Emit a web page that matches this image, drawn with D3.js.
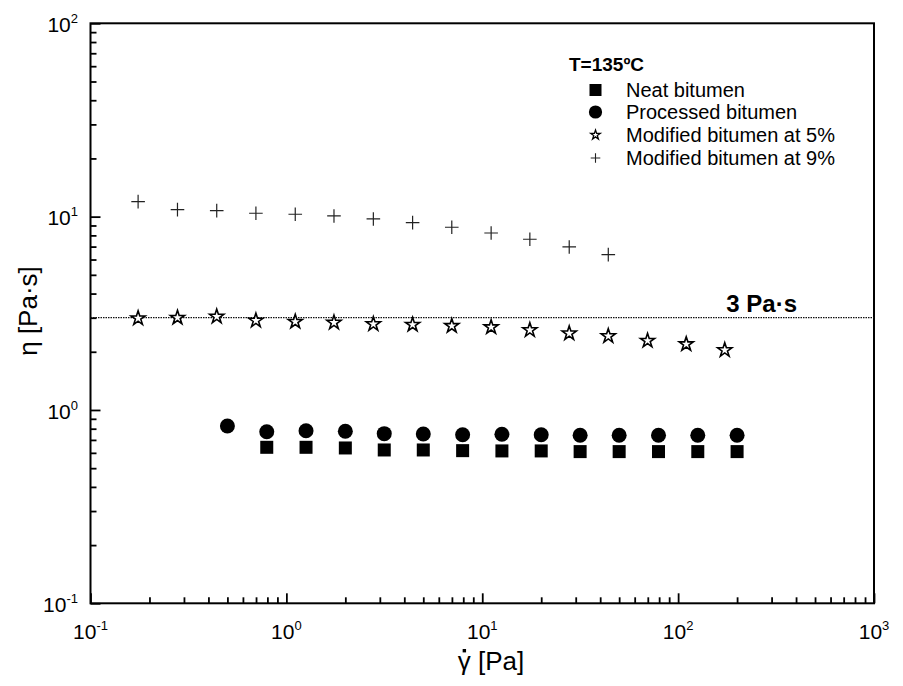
<!DOCTYPE html>
<html><head><meta charset="utf-8">
<script src="https://cdn.jsdelivr.net/npm/d3@7"></script>
<style>body{margin:0;background:#fff} text{font-family:"Liberation Sans",Arial,sans-serif;fill:#000}</style>
</head><body><svg id="c" width="903" height="686"></svg>
<script>
// ---- data ----
const seriesNames = ["Neat bitumen","Processed bitumen","Modified bitumen at 5%","Modified bitumen at 9%"];
const rateNeat = [0.794,1.26,2.0,3.16,5.0,7.94,12.6,20,31.6,50,79.4,126,200];
const etaNeat  = [0.641,0.641,0.636,0.621,0.621,0.616,0.614,0.614,0.609,0.609,0.609,0.609,0.609];
const rateProc = [0.5,0.794,1.26,2.0,3.16,5.0,7.94,12.6,20,31.6,50,79.4,126,200];
const etaProc  = [0.826,0.772,0.781,0.776,0.754,0.751,0.745,0.749,0.745,0.740,0.740,0.740,0.740,0.740];
const rateMod5 = [0.175,0.278,0.441,0.699,1.11,1.75,2.78,4.41,6.99,11.1,17.5,27.8,44.0,69.8,110,173];
const etaMod5  = [2.98,3.00,3.04,2.90,2.86,2.83,2.78,2.76,2.72,2.68,2.59,2.49,2.41,2.28,2.19,2.04];
const rateMod9 = [0.175,0.278,0.441,0.699,1.11,1.75,2.78,4.41,6.99,11.1,17.5,27.8,44.0];
const etaMod9  = [11.96,10.87,10.74,10.41,10.29,10.08,9.73,9.31,8.81,8.23,7.64,6.97,6.36];
const refViscosity = 3;
const xMajor = [0.1,1,10,100,1000], xExp = ["-1","0","1","2","3"];
const yMajor = [0.1,1,10,100], yExp = ["-1","0","1","2"];

// ---- layout ----
const L = 90.5, R = 874, T = 23.3, B = 603.3;
const svg = d3.select("#c");
const x = d3.scaleLog().domain([0.1,1000]).range([L,R]);
const y = d3.scaleLog().domain([0.1,100]).range([B,T]);

function minors(dom){const a=[];for(let e=Math.log10(dom[0]);e<Math.log10(dom[1]);e++){for(let k=2;k<=9;k++)a.push(k*Math.pow(10,e));}return a;}

// ticks (inward)
function drawAxis(gen, vals, size, tr){
  const g = svg.append("g").attr("transform",tr).call(gen.tickValues(vals).tickSize(-size).tickFormat(""));
  g.select(".domain").remove();
  g.selectAll("line").attr("stroke","#000").attr("stroke-width",1.8);
}
drawAxis(d3.axisBottom(x), xMajor, 10, `translate(0,${B})`);
drawAxis(d3.axisBottom(x), minors([0.1,1000]), 6, `translate(0,${B})`);
drawAxis(d3.axisLeft(y), yMajor, 10, `translate(${L},0)`);
drawAxis(d3.axisLeft(y), minors([0.1,100]), 6, `translate(${L},0)`);

// frame
svg.append("rect").attr("x",L).attr("y",T).attr("width",R-L).attr("height",B-T)
  .attr("fill","none").attr("stroke","#000").attr("stroke-width",2);

// tick labels
xMajor.forEach((v,i)=>{
  const t = svg.append("text").attr("x",x(v)).attr("y",638.5).attr("text-anchor","middle").style("font-size","21px");
  t.append("tspan").text("10");
  t.append("tspan").attr("dy",-9).style("font-size","13px").text(xExp[i]);
});
yMajor.forEach((v,i)=>{
  const t = svg.append("text").attr("x",78).attr("y",y(v)+8.7).attr("text-anchor","end").style("font-size","21px");
  t.append("tspan").text("10");
  t.append("tspan").attr("dy",-9).style("font-size","13px").text(yExp[i]);
});

// axis titles
const xt = svg.append("text").attr("x",491).attr("y",670).attr("text-anchor","middle").style("font-size","26px");
xt.append("tspan").attr("class","g").text("γ");
xt.append("tspan").text(" [Pa]");
const tw = xt.node().getComputedTextLength();
const gw = xt.select("tspan.g").node().getComputedTextLength();
svg.append("rect").attr("x",491 - tw/2 + gw/2 - 1.6).attr("y",670-21).attr("width",3.4).attr("height",3.4).attr("fill","#000");
svg.append("text").attr("transform","translate(37,311) rotate(-90)").attr("text-anchor","middle")
  .style("font-size","26px").text("η [Pa·s]");

// reference line
svg.append("line").attr("x1",L).attr("x2",R).attr("y1",y(refViscosity)).attr("y2",y(refViscosity))
  .attr("stroke","#111").attr("stroke-width",1.3).attr("stroke-dasharray","1.5,1");
svg.append("text").attr("x",797).attr("y",311.5).attr("text-anchor","end")
  .style("font-size","24px").style("font-weight","bold").text("3 Pa·s");

// markers
const star = d3.symbol().type(d3.symbolStar);
function drawSquare(g,cx,cy,s){g.append("rect").attr("x",cx-s/2).attr("y",cy-s/2).attr("width",s).attr("height",s).attr("fill","#000");}
function drawCircle(g,cx,cy,r){g.append("circle").attr("cx",cx).attr("cy",cy).attr("r",r).attr("fill","#000");}
function drawStar(g,cx,cy,size,sw){g.append("path").attr("d",star.size(size)()).attr("transform",`translate(${cx},${cy})`)
  .attr("fill","#fff").attr("stroke","#000").attr("stroke-width",sw).attr("stroke-linejoin","miter");}
function drawPlus(g,cx,cy,h,sw){g.append("path").attr("d",`M${cx-h},${cy}H${cx+h}M${cx},${cy-h}V${cy+h}`)
  .attr("stroke","#222").attr("stroke-width",sw).attr("fill","none");}

const gm = svg.append("g");
rateNeat.forEach((r,i)=>drawSquare(gm,x(r),y(etaNeat[i]),13));
rateProc.forEach((r,i)=>drawCircle(gm,x(r),y(etaProc[i]),7.5));
rateMod5.forEach((r,i)=>drawStar(gm,x(r),y(etaMod5[i]),62,1.6));
rateMod9.forEach((r,i)=>drawPlus(gm,x(r),y(etaMod9[i]),6.8,1.2));

// legend
const lg = svg.append("g");
lg.append("text").attr("x",569).attr("y",71).style("font-size","19px").style("font-weight","bold").text("T=135ºC");
const rows = [90,112,135,158];
drawSquare(lg,595.5,rows[0],12);
drawCircle(lg,595.5,rows[1],6.6);
drawStar(lg,595.5,rows[2],28,1.3);
drawPlus(lg,595.5,rows[3],4.8,1.1);
seriesNames.forEach((n,i)=>lg.append("text").attr("x",626).attr("y",rows[i]+7).style("font-size","20px").text(n));
</script></body></html>
